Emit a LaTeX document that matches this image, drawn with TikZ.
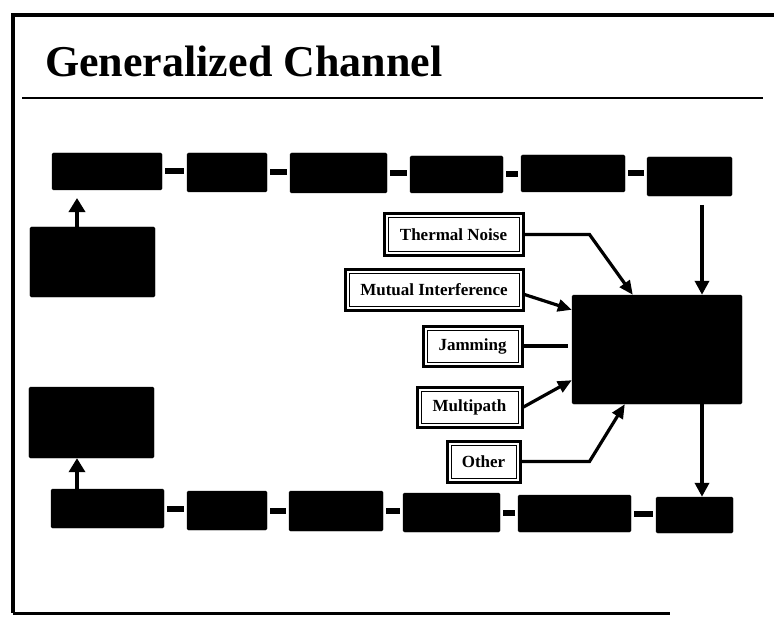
\documentclass[tikz,border=0pt]{standalone}
\usepackage{fontspec}
\setmainfont{Liberation Serif}
\usetikzlibrary{arrows.meta,calc}
\begin{document}
\begin{tikzpicture}[x=1bp,y=-1bp,
  sz/.style 2 args={minimum width=#1bp,minimum height=#2bp},
  blk/.style={fill=black,draw=black,inner sep=0pt,rounded corners=1.5bp},
  lbl/.style={draw=black,line width=3bp,fill=white,inner sep=0pt,
    font=\fontsize{17bp}{20bp}\selectfont\bfseries,
    path picture={\draw[line width=1bp]
      ([shift={(4bp,-4bp)}]path picture bounding box.north west) rectangle
      ([shift={(-4bp,4bp)}]path picture bounding box.south east);}},
  arr/.style={line width=3.2bp,-{Triangle[length=14bp,width=12bp]}},
  ln/.style={line width=3.2bp},
  varr/.style={line width=4.8bp,-{Triangle[length=14bp,width=16bp]}},
  darr/.style={line width=3.8bp,-{Triangle[length=14bp,width=14bp]}},
  link/.style={line width=6bp,shorten <=3bp,shorten >=3bp},
  frame/.style={line width=4bp}]
\useasboundingbox (0,0) rectangle (774,619);
% frame
\coordinate (fTL) at (12.5,15);
\coordinate (fTR) at (774,15);
\coordinate (fBL) at (12.5,613);
\coordinate (fBR) at (670,613);
\draw[frame] (fTR) -- (fTL) -- (fBL);
\draw[line width=3bp] (fBL) -- (fBR);
\coordinate (rL) at (22,98);
\coordinate (rR) at (763,98);
\draw[line width=2.2bp] (rL) -- (rR);
% title
\node[anchor=base west,inner sep=0pt,font=\fontsize{44bp}{48bp}\selectfont\bfseries] (title) at (45,77) {Generalized Channel};
% top row
\node[blk,sz={110}{37}] (t1) at (107,171.5) {};
\node[blk,sz={80}{39}] (t2) at (227,172.5) {};
\node[blk,sz={97}{40}] (t3) at (338.5,173) {};
\node[blk,sz={93}{37}] (t4) at (456.5,174.5) {};
\node[blk,sz={104}{37}] (t5) at (573,173.5) {};
\node[blk,sz={85}{39}] (t6) at (689.5,176.5) {};
\draw[link] (t1.east) -- (t1.east -| t2.west);
\draw[link] (t2.east) -- (t2.east -| t3.west);
\draw[link] (t3.east) -- (t3.east -| t4.west);
\draw[link] (t4.east) -- (t4.east -| t5.west);
\draw[link] (t5.east) -- (t5.east -| t6.west);
% left boxes
\node[blk,sz={125}{70}] (lA) at (92.5,262) {};
\node[blk,sz={125}{71}] (lB) at (91.5,422.5) {};
% bottom row
\node[blk,sz={113}{39}] (b1) at (107.5,508.5) {};
\node[blk,sz={80}{39}] (b2) at (227,510.5) {};
\node[blk,sz={94}{40}] (b3) at (336,511) {};
\node[blk,sz={97}{39}] (b4) at (451.5,512.5) {};
\node[blk,sz={113}{37}] (b5) at (574.5,513.5) {};
\node[blk,sz={77}{36}] (b6) at (694.5,515) {};
\draw[link] (b1.east) -- (b1.east -| b2.west);
\draw[link] (b2.east) -- (b2.east -| b3.west);
\draw[link] (b3.east) -- (b3.east -| b4.west);
\draw[link] (b4.east) -- (b4.east -| b5.west);
\draw[link] (b5.east) -- (b5.east -| b6.west);
% big channel box
\node[blk,sz={170}{109}] (big) at (657,349.5) {};
% vertical arrows
\coordinate (aA) at (77,198);
\draw[varr] (lA.north -| aA) -- (aA);
\draw[varr] (b1.north -| aA) -- (lB.south -| aA);
\coordinate (dT) at (702,205);
\draw[darr] (dT) -- (big.north -| dT);
\draw[darr] (big.south -| dT) -- (b6.north -| dT);
% labels
\node[lbl,sz={139}{41}] (th) at (453.5,234.5) {Thermal Noise};
\node[lbl,sz={178}{41}] (mu) at (434,289.5) {Mutual Interference};
\node[lbl,sz={99}{40}] (ja) at (472.5,346) {Jamming};
\node[lbl,sz={105}{40}] (mp) at (469.5,407) {Multipath};
\node[lbl,sz={73}{41}] (ot) at (483.5,461.5) {Other};
% connectors
\draw[arr] (th.east) -- ++(65,0) -- ([xshift=61bp]big.north west);
\draw[arr] ([yshift=-5bp]mu.east) -- ([yshift=-15bp]big.north west);
\draw[ln] (ja.east) -- ([xshift=-4bp]big.west |- ja.east);
\draw[arr] (mp.east) -- ([yshift=24bp]big.south west);
\draw[arr] (ot.east) -- ++(68,0) -- ([xshift=53bp]big.south west);
\end{tikzpicture}
\end{document}
